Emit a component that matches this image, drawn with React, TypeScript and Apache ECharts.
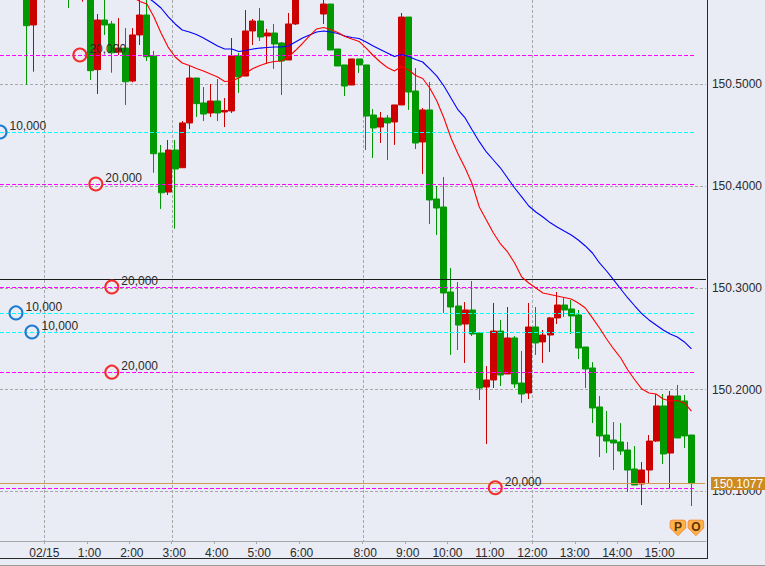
import React, { useEffect, useRef } from "react";
import * as echarts from "echarts";

const opens = [
150.6027,150.5584,150.6000,150.6150,150.6250,150.6150,150.6050,150.5950,150.5900,150.5977,
150.5145,150.5633,150.5594,150.5318,150.5357,150.5033,150.5486,150.5682,150.5279,150.4326,
150.3942,150.4355,150.4181,150.4621,150.5063,150.4818,150.4719,150.4837,150.4729,150.4739,
150.5279,150.5082,150.5525,150.5623,150.5476,150.5505,150.5407,150.5240,150.5594,150.5950,
150.6050,150.6000,150.5692,150.5790,150.5348,150.5191,150.4994,150.5250,150.5191,150.4699,
150.4581,150.4670,150.4631,150.4798,150.5662,150.4935,150.4434,150.4749,150.3874,150.3795,
150.2960,150.2822,150.2645,150.2783,150.2557,150.2026,150.2095,150.2576,150.2154,150.2508,
150.2065,150.1967,150.2616,150.2469,150.2537,150.2705,150.2832,150.2793,150.2734,150.2419,
150.2213,150.1830,150.1554,150.1505,150.1486,150.1407,150.1220,150.1073,150.1210,150.1495,
150.1840,150.1377,150.1938,150.1889,150.1554];
const closes = [
150.5577,150.5977,150.6150,150.6250,150.6150,150.6050,150.5950,150.6050,150.6050,150.5135,
150.5633,150.5584,150.5311,150.5357,150.5026,150.5486,150.5682,150.5272,150.4319,150.3935,
150.4355,150.4169,150.4621,150.5063,150.4811,150.4709,150.4837,150.4719,150.4744,150.5279,
150.5073,150.5525,150.5623,150.5466,150.5505,150.5397,150.5230,150.5594,150.5948,150.6050,
150.6000,150.5900,150.5790,150.5338,150.5181,150.4984,150.5250,150.5191,150.4689,150.4572,
150.4670,150.4621,150.4798,150.5662,150.4925,150.4424,150.4749,150.3864,150.3785,150.2950,
150.2812,150.2635,150.2783,150.2547,150.2016,150.2095,150.2576,150.2144,150.2508,150.2056,
150.1957,150.2616,150.2459,150.2537,150.2705,150.2832,150.2783,150.2724,150.2409,150.2203,
150.1820,150.1545,150.1495,150.1476,150.1397,150.1210,150.1063,150.1210,150.1495,150.1840,
150.1368,150.1938,150.1525,150.1545,150.1077];
const lows = [
150.4997,150.5125,150.5950,150.6100,150.6100,150.5950,150.5751,150.5900,150.5813,150.5043,
150.4906,150.5486,150.5115,150.5289,150.4798,150.5020,150.5387,150.5230,150.4132,150.3776,
150.3913,150.3582,150.4181,150.4562,150.4680,150.4640,150.4680,150.4640,150.4581,150.4719,
150.4916,150.5082,150.5387,150.5426,150.5201,150.5152,150.4896,150.5240,150.5584,150.5900,
150.5950,150.5860,150.5594,150.5338,150.5181,150.4886,150.4994,150.5112,150.4355,150.4277,
150.4424,150.4257,150.4405,150.4798,150.4749,150.4365,150.4119,150.3628,150.3520,150.2754,
150.2341,150.2390,150.2262,150.2527,150.1898,150.1466,150.2016,150.2036,150.2154,150.2016,
150.1869,150.1908,150.2341,150.2262,150.2370,150.2645,150.2714,150.2547,150.2301,150.2016,
150.1672,150.1338,150.1377,150.1210,150.1358,150.0994,150.1063,150.0866,150.1073,150.1486,
150.1269,150.1033,150.1525,150.1426,150.0856];
const highs = [
150.6125,150.6075,150.6200,150.6300,150.6300,150.6200,150.6100,150.6080,150.6100,150.6027,
150.5692,150.5850,150.5623,150.5652,150.5554,150.5554,150.5850,150.5850,150.5328,150.4405,
150.4454,150.4454,150.4640,150.5181,150.5063,150.4974,150.5004,150.5053,150.4866,150.5456,
150.5309,150.5731,150.5643,150.5751,150.5545,150.5594,150.5417,150.5702,150.6027,150.6100,
150.6100,150.6020,150.5840,150.5790,150.5348,150.5191,150.5250,150.5250,150.5191,150.4758,
150.4729,150.4699,150.4798,150.5702,150.5662,150.5161,150.4768,150.5024,150.4002,150.4090,
150.3196,150.3058,150.2861,150.3068,150.2557,150.2232,150.2852,150.2685,150.2812,150.2527,
150.2380,150.2852,150.2812,150.2586,150.2714,150.2960,150.2901,150.2881,150.2783,150.2419,
150.2271,150.1938,150.1790,150.1682,150.1672,150.1486,150.1446,150.1289,150.1554,150.1957,
150.1957,150.1987,150.2046,150.1948,150.1554];

// moving averages: first value belongs to candle index blueStart / redStart
const blueStart = 17;
const blueMA = [
150.5859,150.5810,150.5751,150.5667,150.5594,150.5535,150.5515,150.5490,150.5456,150.5417,
150.5377,150.5348,150.5348,150.5323,150.5333,150.5348,150.5357,150.5362,150.5367,150.5367,
150.5377,150.5417,150.5456,150.5486,150.5515,150.5525,150.5515,150.5500,150.5476,150.5461,
150.5451,150.5417,150.5377,150.5343,150.5309,150.5274,150.5294,150.5274,150.5245,150.5220,
150.5152,150.5082,150.4984,150.4866,150.4749,150.4670,150.4552,150.4437,150.4336,150.4257,
150.4178,150.4080,150.3982,150.3894,150.3805,150.3746,150.3697,150.3642,150.3599,150.3559,
150.3520,150.3471,150.3412,150.3343,150.3245,150.3166,150.3078,150.2989,150.2901,150.2822,
150.2744,150.2685,150.2635,150.2586,150.2547,150.2517,150.2469,150.2400];
const redStart = 15;
const redMA = [
150.5859,150.5815,150.5790,150.5662,150.5505,150.5367,150.5269,150.5210,150.5186,150.5156,
150.5132,150.5102,150.5073,150.5029,150.5033,150.5063,150.5112,150.5156,150.5186,150.5210,
150.5225,150.5230,150.5269,150.5333,150.5402,150.5476,150.5545,150.5559,150.5540,150.5510,
150.5471,150.5446,150.5422,150.5357,150.5284,150.5220,150.5166,150.5132,150.5176,150.5142,
150.5087,150.5058,150.4965,150.4837,150.4670,150.4473,150.4316,150.4178,150.4021,150.3795,
150.3667,150.3540,150.3432,150.3353,150.3245,150.3107,150.3048,150.2999,150.2950,150.2935,
150.2920,150.2906,150.2891,150.2852,150.2803,150.2705,150.2606,150.2498,150.2400,150.2311,
150.2193,150.2095,150.2006,150.1967,150.1957,150.1908,150.1889,150.1893,150.1869,150.1790];

const yTicks = [150.1, 150.2, 150.3, 150.4, 150.5];
const xTickNames = ["02/15","1:00","2:00","3:00","4:00","5:00","6:00","8:00","9:00","10:00","11:00","12:00","13:00","14:00","15:00"];
const xTickIdx = [2.5,8.5,14.5,20.5,26.5,32.5,38.5,47.5,53.5,59.5,65.5,71.5,77.5,83.5,89.5];
const xLabelIdx = [2.5,8.87,14.87,20.87,26.87,32.87,38.87,47.87,53.87,59.5,65.5,71.5,77.5,83.5,89.5];
const xGridIdx = [2.5,20.5,47.5,71.5];

const sellPrices = [150.5289,150.4021,150.3009,150.2172,150.1036];
const sellX = [7.525,9.78,12.04,12.04,66.26];
const sellAmounts = ["20,000","20,000","20,000","20,000","20,000"];
const buyPrices = [150.4532,150.2754,150.2567];
const buyX = [-3.77,-1.51,0.75];
const buyAmounts = ["10,000","10,000","10,000"];
const blackLevel = 150.3084;
const lastPrice = 150.1077;
const poIdx = [92.09,94.63];
const poPrice = 150.0641;
const poNames = ["P","O"];

const xMin = -3.77, xMax = 96.05, dashedEnd = 94.63;
const yMax = 150.58295, yMin = 150.05125;
const FONT = '"Liberation Sans", Arial, sans-serif';
const TXT = "#2b2b2b";

const hLine = (data: number[], stroke: string, dash: number[] | null, end: number, z: number) => ({
  type: "custom", z, silent: true, clip: true, data: data.map((v) => [v]),
  renderItem: (_p: any, api: any) => {
    const a = api.coord([xMin, api.value(0)]);
    const b = api.coord([end, api.value(0)]);
    const y = Math.floor(a[1] + 0.4) + 0.5;
    return { type: "line", shape: { x1: a[0], y1: y, x2: b[0], y2: y }, style: { stroke, lineWidth: 1, lineDash: dash || undefined, fill: null } };
  },
});

const SHIELD = "path://M2,0 L14,0 Q16,0 16,2 L16,8 L8,16 L0,8 L0,2 Q0,0 2,0 Z";

export default function App() {
  const ref = useRef<HTMLDivElement>(null);
  useEffect(() => {
    document.body.style.margin = "0";
    const chart = echarts.init(ref.current!, undefined, { renderer: "svg" });
    const candles = opens.map((o, i) => [i, o, closes[i], lows[i], highs[i]]);
    const orders = (xs: number[], ps: number[], names: string[], color: string) => ({
      type: "scatter", z: 6, clip: false, silent: true, symbol: "circle", symbolSize: 13,
      data: xs.map((x, i) => ({ value: [x, ps[i]], label: { formatter: names[i] } })),
      itemStyle: { color: "rgba(0,0,0,0)", borderColor: color, borderWidth: 2, opacity: 1 },
      label: { show: true, position: "right", distance: 2, offset: [0, -6], color: TXT, fontFamily: FONT, fontSize: 12 },
    });
    chart.setOption({
      animation: false,
      backgroundColor: "#E9ECF4",
      grid: { left: 0, top: 0, width: 707, height: 541 },
      tooltip: { show: false },
      xAxis: {
        type: "value", min: xMin, max: xMax,
        axisLine: { show: true, onZero: false, lineStyle: { color: "#A8A8A8", width: 1 } },
        axisTick: { show: true, length: 3, customValues: xTickIdx, lineStyle: { color: "#A8A8A8" } },
        axisLabel: {
          customValues: xLabelIdx, margin: 6, color: TXT, fontFamily: FONT, fontSize: 12,
          formatter: (v: number) => xTickNames[xLabelIdx.indexOf(v)] ?? "",
        },
        splitLine: { show: false },
      },
      yAxis: {
        type: "value", position: "right", min: yMin, max: yMax, scale: true,
        axisLine: { show: false },
        axisTick: { show: false, customValues: yTicks },
        axisLabel: {
          customValues: yTicks, margin: 6, color: TXT, fontFamily: FONT, fontSize: 12,
          formatter: (v: number) => v.toFixed(4),
        },
        splitLine: { show: true, lineStyle: { color: "#A8A8A8", type: [3, 2], width: 1 } },
      },
      series: [
        {
          type: "custom", z: 1, silent: true, data: xGridIdx.map((v) => [v]),
          renderItem: (_p: any, api: any) => {
            const a = api.coord([api.value(0), yMax]);
            const b = api.coord([api.value(0), yMin]);
            const x = Math.round(a[0]) + 0.5;
            return { type: "line", shape: { x1: x, y1: a[1], x2: x, y2: b[1] }, style: { stroke: "#A8A8A8", lineWidth: 1, lineDash: [3, 2], fill: null } };
          },
        },
        {
          type: "candlestick", z: 2, silent: true, clip: true, barWidth: 6.5,
          encode: { x: 0, y: [1, 2, 3, 4] },
          data: candles,
          itemStyle: { color: "#CC0000", color0: "#009900", borderColor: "#CC0000", borderColor0: "#009900", borderWidth: 1 },
        },
        ...sellPrices.map((p) => hLine([p], "#FF00FF", [4, 2], dashedEnd, 3)),
        ...buyPrices.map((p) => hLine([p], "#00FFFF", [4, 2], dashedEnd, 3)),
        hLine([blackLevel], "#1A1A1A", null, xMax, 3),
        hLine([lastPrice], "#D29A4E", null, xMax - 0.1, 3),
        {
          type: "line", z: 4, silent: true, showSymbol: false, symbol: "none",
          data: blueMA.map((v, i) => [i + blueStart, v]),
          lineStyle: { color: "#0000FF", width: 1.1 },
        },
        {
          type: "line", z: 4, silent: true, showSymbol: false, symbol: "none",
          data: redMA.map((v, i) => [i + redStart, v]),
          lineStyle: { color: "#FF0000", width: 1.1 },
        },
        orders(sellX, sellPrices, sellAmounts, "#F52C2C"),
        orders(buyX, buyPrices, buyAmounts, "#1C7BD0"),
        {
          type: "scatter", z: 7, clip: false, silent: true, symbol: SHIELD, symbolSize: 15.5,
          data: poIdx.map((x, i) => ({ value: [x, poPrice], label: { formatter: poNames[i] } })),
          itemStyle: { color: "#FFB347", borderColor: "#F58A3C", borderWidth: 1, opacity: 1 },
          label: { show: true, position: "inside", offset: [0, -1], color: "#5E3200", fontWeight: "bold", fontFamily: FONT, fontSize: 12 },
        },
        {
          type: "custom", z: 8, silent: true, clip: false, data: [[lastPrice]],
          renderItem: (_p: any, api: any) => {
            const y = api.coord([xMax, api.value(0)])[1];
            const top = Math.floor(y + 0.4) - 6;
            return {
              type: "group",
              children: [
                { type: "rect", shape: { x: 711, y: top, width: 54, height: 13 }, style: { fill: "#CC8A22" } },
                { type: "text", style: { x: 713, y: top + 7, text: api.value(0).toFixed(4), fill: "#FFFFFF", font: `12px ${FONT}`, textVerticalAlign: "middle", verticalAlign: "middle" } },
              ],
            };
          },
        },
      ],
      graphic: [
        { type: "rect", silent: true, z: 20, shape: { x: 707, y: 0, width: 1, height: 559 }, style: { fill: "#2A2A2A" } },
        { type: "rect", silent: true, z: 20, shape: { x: 0, y: 558, width: 708, height: 1 }, style: { fill: "#2A2A2A" } },
        { type: "rect", silent: true, z: 20, shape: { x: 0, y: 565, width: 765, height: 1 }, style: { fill: "#9A9A9A" } },
      ],
    });
    return () => chart.dispose();
  }, []);
  return <div ref={ref} style={{ position: "fixed", left: 0, top: 0, width: 765, height: 566 }} />;
}
